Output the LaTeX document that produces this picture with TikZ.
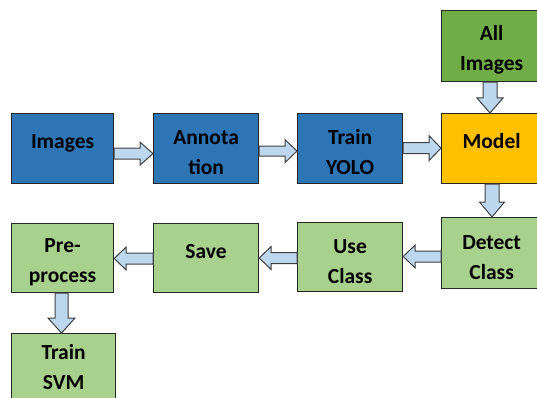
\documentclass[tikz,border=0pt]{standalone}
\usepackage{fontspec}
\setmainfont{Carlito}
\usetikzlibrary{calc}
\definecolor{bbox}{HTML}{2E75B6}
\definecolor{gbox}{HTML}{A9D18E}
\definecolor{dgbox}{HTML}{70AD47}
\definecolor{obox}{HTML}{FFC000}
\definecolor{afill}{HTML}{BDD7EE}
\definecolor{edge}{HTML}{262626}
\newcommand\tstrut{\rule{0pt}{22pt}}
\newcommand\barrow[5]{%
  \path (#2) coordinate (bT) ($(#2)!#5pt!(#1)$) coordinate (bH);
  \draw[arrowstyle] ($(#1)!#3pt!90:(bT)$) -- ($(bH)!#3pt!-90:(#1)$) -- ($(bH)!#4pt!-90:(#1)$) -- (bT)
    -- ($(bH)!#4pt!90:(#1)$) -- ($(bH)!#3pt!90:(#1)$) -- ($(#1)!#3pt!-90:(bT)$) -- cycle;}
\begin{document}
\begin{tikzpicture}[x=1pt,y=-1pt,
  box/.style={draw=edge, line width=1.2pt, anchor=north west, align=center, inner sep=0pt,
    font=\fontsize{21.5}{30}\selectfont\bfseries, text=black},
  oneline/.style={text height=9pt, text depth=9pt},
  arrowstyle/.style={draw=black!75, line width=1pt, fill=afill, line join=miter}]
\useasboundingbox (0,0) rectangle (537,398);
\clip (0,0) rectangle (537,398);
% row 1
\node[box, oneline, fill=bbox, minimum width=102pt, minimum height=70pt] (img) at (11,113) {Images};
\node[box, fill=bbox, minimum width=105pt, minimum height=70pt] (ann) at (153,113) {\tstrut Annota\\tion};
\node[box, fill=bbox, minimum width=105pt, minimum height=70pt] (yolo) at (297,113) {\tstrut Train\\YOLO};
\node[box, oneline, fill=obox, minimum width=100pt, minimum height=70pt] (model) at (441,113) {Model};
\node[box, fill=dgbox, minimum width=100pt, minimum height=71pt] (allimg) at (441,10) {\tstrut All\\Images};
% row 2
\node[box, fill=gbox, minimum width=100pt, minimum height=71pt] (detect) at (441,217) {\tstrut Detect\\Class};
\node[box, fill=gbox, minimum width=105pt, minimum height=69pt] (use) at (297,222) {\tstrut Use\\Class};
\node[box, oneline, fill=gbox, minimum width=105pt, minimum height=69pt] (save) at (153,223) {Save};
\node[box, fill=gbox, minimum width=102pt, minimum height=69pt] (pre) at (11,223) {\tstrut Pre-\\process};
% row 3
\node[box, fill=gbox, minimum width=104pt, minimum height=66pt] (svm) at (11,333) {Train\\SVM};
% connectors
\path ($(img.east)+(0,5)$) coordinate (s1) ($(ann.west)+(0,5)$) coordinate (t1);
\barrow{s1}{t1}{5.5}{11.5}{13}
\path ($(ann.east)+(0,2.5)$) coordinate (s2) ($(yolo.west)+(0,2.5)$) coordinate (t2);
\barrow{s2}{t2}{5}{11.5}{12}
\path ($(yolo.east)+(0,-0.5)$) coordinate (s3) ($(model.west)+(0,-0.5)$) coordinate (t3);
\barrow{s3}{t3}{5.5}{12.5}{12}
\path (allimg.south -| 490,0) coordinate (s4) (model.north -| 490,0) coordinate (t4);
\barrow{s4}{t4}{7}{13}{15}
\path (model.south -| 492,0) coordinate (s5) (detect.north -| 492,0) coordinate (t5);
\barrow{s5}{t5}{7}{12.5}{15}
\path (detect.west |- 0,256.5) coordinate (s6) (use.east |- 0,256.5) coordinate (t6);
\barrow{s6}{t6}{5.5}{11.5}{12}
\path (use.west |- 0,258) coordinate (s7) (save.east |- 0,258) coordinate (t7);
\barrow{s7}{t7}{5.5}{11.5}{12}
\path (save.west |- 0,258.5) coordinate (s8) (pre.east |- 0,258.5) coordinate (t8);
\barrow{s8}{t8}{5.5}{11.5}{12}
\path (pre.south -| 61.5,0) coordinate (s9) (svm.north -| 61.5,0) coordinate (t9);
\barrow{s9}{t9}{6.5}{13.5}{15}
\end{tikzpicture}
\end{document}
